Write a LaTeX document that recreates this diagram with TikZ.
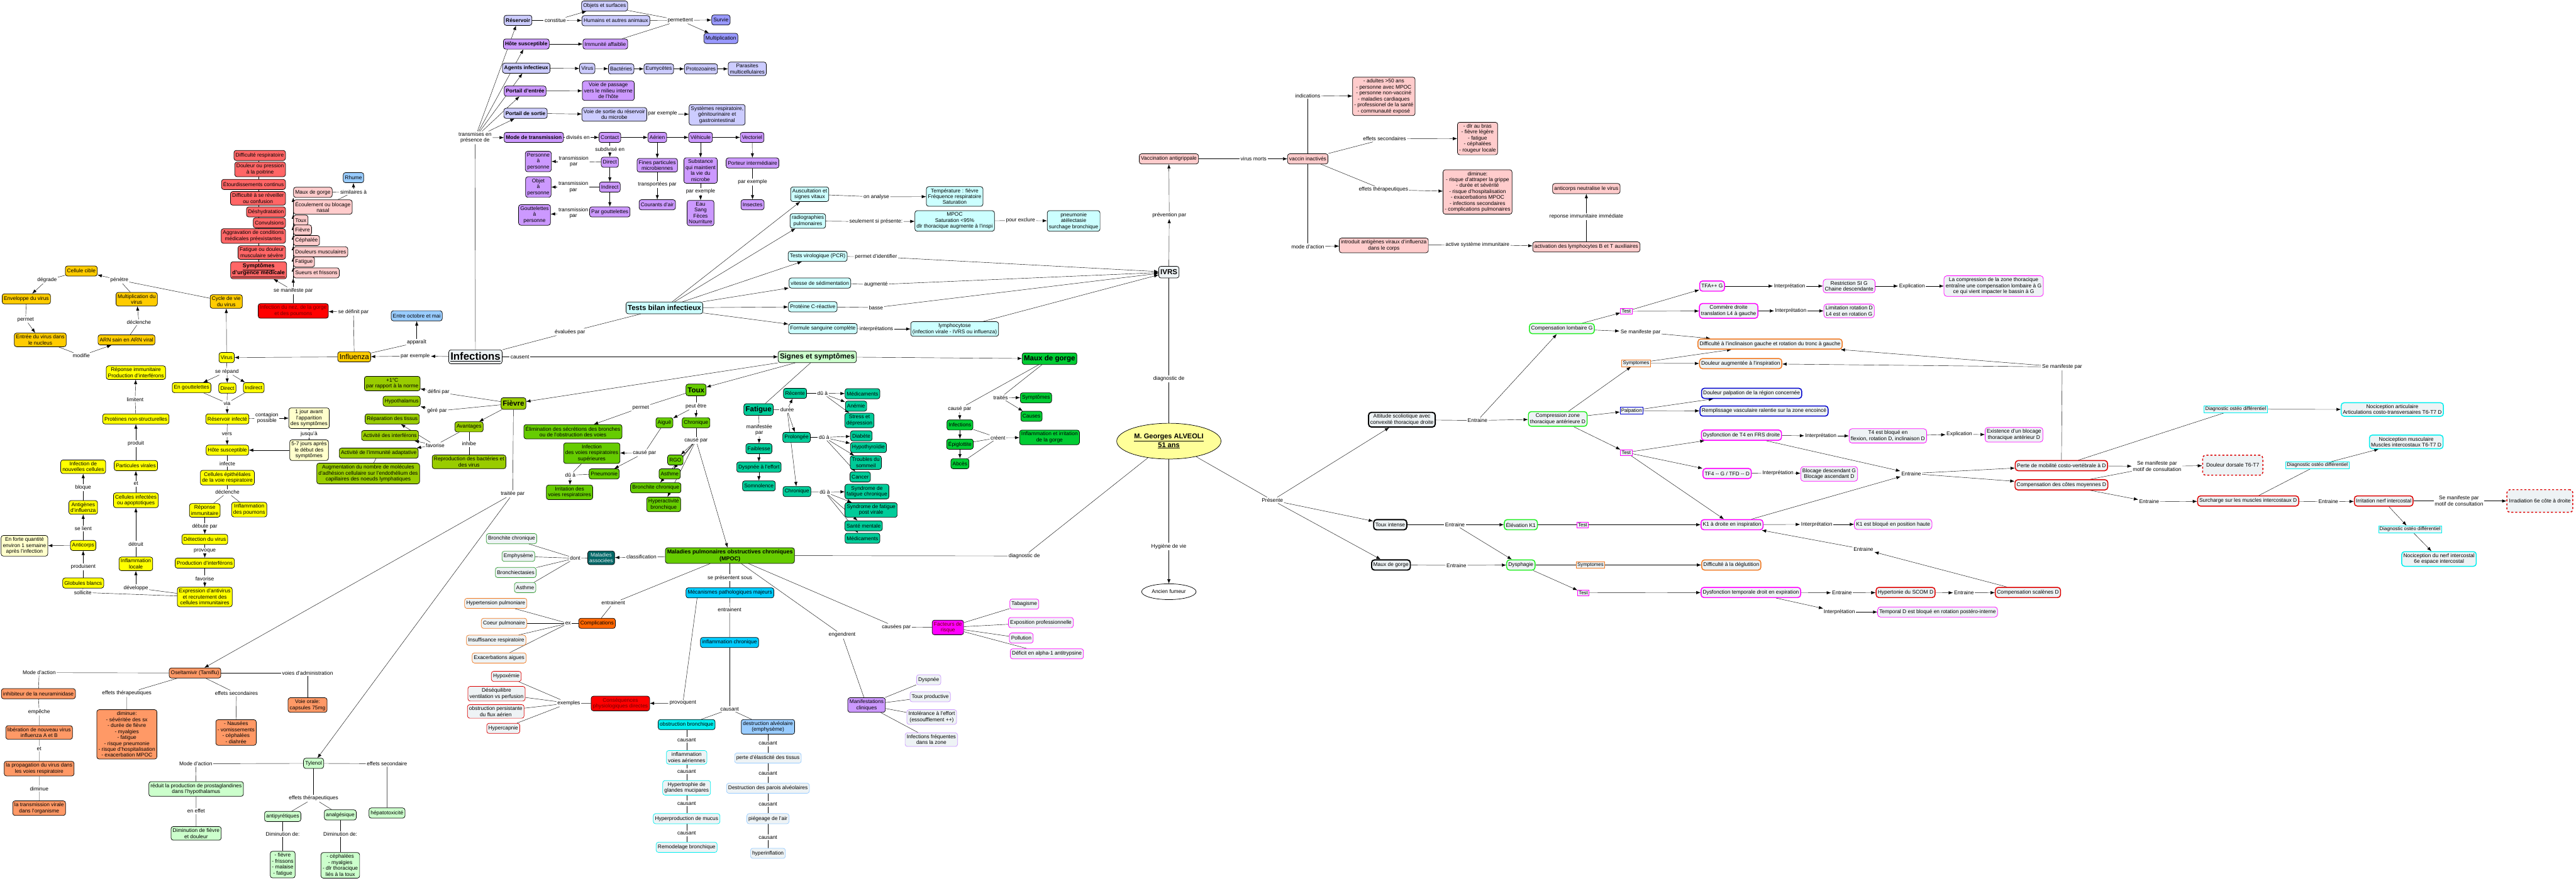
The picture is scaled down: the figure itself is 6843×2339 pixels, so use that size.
\documentclass[tikz,border=0pt]{standalone}
\usepackage{fontspec}
\setmainfont{Liberation Sans}
\usepackage{tikz}
\usetikzlibrary{arrows.meta,shapes.geometric,backgrounds}
\usepackage{xcolor}
\definecolor{LavBlue}{HTML}{CCCCFF}
\definecolor{Lilac}{HTML}{CC99FF}
\definecolor{Periw}{HTML}{9999FF}
\definecolor{Salmon}{HTML}{FF6666}
\definecolor{Blush}{HTML}{FFCCCC}
\definecolor{SkyB}{HTML}{99CCFF}
\definecolor{Amber}{HTML}{FFCC00}
\definecolor{Lemon}{HTML}{FFFF00}
\definecolor{Cream}{HTML}{FFFFCC}
\definecolor{AlertRed}{HTML}{FF0000}
\definecolor{FeverGreen}{HTML}{99CC00}
\definecolor{CoughGreen}{HTML}{66CC00}
\definecolor{FatTeal}{HTML}{00CC99}
\definecolor{ThroatGreen}{HTML}{00CC33}
\definecolor{TestCyan}{HTML}{CCFFFF}
\definecolor{SignGreen}{HTML}{CCFFCC}
\definecolor{PaleGrey}{HTML}{EEF3F5}
\definecolor{PatYellow}{HTML}{FFFF99}
\definecolor{Tangerine}{HTML}{FF9966}
\definecolor{DeepTeal}{HTML}{006666}
\definecolor{MecBlue}{HTML}{00CCFF}
\definecolor{Aqua}{HTML}{00EEEE}
\definecolor{CompOrange}{HTML}{FF6600}
\definecolor{Fuchsia}{HTML}{FF00FF}
\definecolor{BrightGreen}{HTML}{22EE22}
\definecolor{OstRed}{HTML}{DD0000}
\definecolor{OstBlue}{HTML}{0000CC}
\definecolor{OstOrange}{HTML}{F07820}
\definecolor{EdgeGreen}{HTML}{339933}
\definecolor{DarkRedText}{HTML}{700000}
\newcommand{\mapfont}{\fontsize{8}{9}\selectfont}
\tikzset{
  box/.style={draw,rounded corners=1.2mm,align=center,font=\mapfont,inner xsep=0.9mm,
    inner ysep=1mm,minimum height=5.4mm,line width=0.7pt},
  hdr/.style={box,font=\fontsize{8}{9.5}\selectfont\bfseries},
  bigbox/.style={box,font=\fontsize{11}{13}\selectfont\bfseries,minimum height=6.2mm},
  lbl/.style={font=\mapfont,inner sep=0.5mm,align=center},
  arr/.style={-{Latex[length=2.3mm,width=1.7mm]}},
  ost/.style={box,fill=PaleGrey,line width=1.4pt,rounded corners=1.5mm},
  thin/.style={line width=0.7pt},
  tag/.style={draw,fill=PaleGrey,font=\fontsize{7.5}{9}\selectfont,inner sep=0.6mm,line width=0.7pt},
  greybox/.style={box,fill=PaleGrey}
}
\begin{document}
\begin{tikzpicture}[x=0.2mm,y=-0.2mm]
\useasboundingbox (0,0) rectangle (6843,2339);

\node[hdr,fill=LavBlue] (res) at (1376,54) {Réservoir};
\node[box,fill=LavBlue] (objs) at (1606,16) {Objets et surfaces};
\node[box,fill=LavBlue] (hum) at (1636,55) {Humains et autres animaux};
\node[box,fill=Periw] (survie) at (1915,53) {Survie};
\node[box,fill=Periw] (multi) at (1915,102) {Multiplication};
\node[hdr,fill=Lilac] (hote) at (1398,117) {Hôte susceptible};
\node[box,fill=Lilac] (immun) at (1608,117) {Immunité affaiblie};
\node[hdr,fill=LavBlue] (agents) at (1398,181) {Agents infectieux};
\node[box,fill=LavBlue] (vir1) at (1560,182) {Virus};
\node[box,fill=LavBlue] (bact) at (1650,183) {Bactéries};
\node[box,fill=LavBlue] (eumy) at (1750,183) {Eumycètes};
\node[box,fill=LavBlue] (proto) at (1862,183) {Protozoaires};
\node[box,fill=LavBlue] (paras) at (1985,183) {Parasites\\multicellulaires};
\node[hdr,fill=Lilac] (pentree) at (1395,242) {Portail d'entrée};
\node[box,fill=Lilac] (voiep) at (1616,241) {Voie de passage\\vers le milieu interne\\de l'hôte};
\node[hdr,fill=LavBlue] (psortie) at (1396,301) {Portail de sortie};
\node[box,fill=LavBlue] (voies) at (1632,304) {Voie de sortie du réservoir\\du microbe};
\node[box,fill=LavBlue] (syst) at (1905,305) {Systèmes respiratoire,\\génitourinaire et\\gastrointestinal};
\node[hdr,fill=Lilac] (mode) at (1418,365) {Mode de transmission};
\node[box,fill=Lilac] (contact) at (1620,365) {Contact};
\node[box,fill=Lilac] (aerien) at (1746,365) {Aérien};
\node[box,fill=Lilac] (vehic) at (1861,365) {Véhicule};
\node[box,fill=Lilac] (vect) at (1998,365) {Vectoriel};
\node[box,fill=Lilac] (pdirect) at (1620,431) {Direct};
\node[box,fill=Lilac] (pperso) at (1430,429) {Personne\\à\\personne};
\node[box,fill=Lilac] (pindir) at (1620,497) {Indirect};
\node[box,fill=Lilac] (pobjet) at (1430,497) {Objet\\à\\personne};
\node[box,fill=Lilac] (pgoutt) at (1620,563) {Par gouttelettes};
\node[box,fill=Lilac] (pgouttp) at (1420,571) {Gouttelettes\\à\\personne};
\node[box,fill=Lilac] (fines) at (1746,439) {Fines particules\\microbiennes};
\node[box,fill=Lilac] (courants) at (1746,544) {Courants d'air};
\node[box,fill=Lilac] (subst) at (1861,453) {Substance\\qui maintient\\la vie du\\microbe};
\node[box,fill=Lilac] (eau) at (1861,566) {Eau\\Sang\\Fèces\\Nourriture};
\node[box,fill=Lilac] (porteur) at (1999,433) {Porteur intermédiaire};
\node[box,fill=Lilac] (insectes) at (1999,544) {Insectes};
\node[lbl] (Lconst) at (1475,54) {constitue};
\node[lbl] (Lperm) at (1807,54) {permettent};
\node[lbl] (Lpex1) at (1760,302) {par exemple};
\node[lbl] (Ltrans) at (1262,366) {transmises en\\présence de};
\node[lbl] (Ldiv) at (1535,365) {divisés en};
\node[lbl] (Lsubd) at (1620,396) {subdivisé en};
\node[lbl] (Ltp1) at (1524,429) {transmission\\par};
\node[lbl] (Ltp2) at (1523,497) {transmission\\par};
\node[lbl] (Ltp3) at (1523,566) {transmission\\par};
\node[lbl] (Ltransp) at (1746,490) {transportées par};
\node[lbl] (Lpex2) at (1861,509) {par exemple};
\node[lbl] (Lpex3) at (1999,484) {par exemple};

\node[box,fill=PaleGrey,font=\fontsize{16}{19}\selectfont\bfseries,minimum height=7.4mm] (inf) at (1263,948) {\underline{Infections}};
\node[lbl] (Lcausent) at (1381,948) {causent};
\node[bigbox,fill=SignGreen] (signes) at (2171,948) {Signes et symptômes};
\node[lbl] (Leval) at (1514,882) {évaluées par};
\node[bigbox,fill=TestCyan] (tests) at (1765,818) {Tests bilan infectieux};
\node[lbl] (Lparex) at (1103,946) {par exemple};
\node[box,fill=Amber,font=\fontsize{11}{13}\selectfont] (influ) at (941,948) {Influenza};
\node[lbl] (Lappar) at (1107,910) {apparaît};
\node[box,fill=SkyB] (octo) at (1107,839) {Entre octobre et mai};
\node[lbl] (Ldefin) at (939,829) {se définit par};
\node[box,fill=AlertRed,text=DarkRedText] (nez) at (779,826) {Infection du nez, de la gorge\\et des poumons};
\node[lbl] (Lmanif) at (779,772) {se manifeste par};
\node[box,fill=Salmon,font=\fontsize{8.5}{10}\selectfont\bfseries] (urg) at (687,718) {\underline{Symptômes}\\\underline{d'urgence médicale}};
\node[box,fill=Salmon,anchor=east] (difresp) at (759,413) {Difficulté respiratoire};
\node[box,fill=Salmon,anchor=east] (doulpoit) at (759,450) {Douleur ou pression\\à la poitrine};
\node[box,fill=Salmon,anchor=east] (etourd) at (759,490) {Étourdissements continus};
\node[box,fill=Salmon,anchor=east] (reveil) at (759,527) {Difficulté à se réveiller\\ou confusion};
\node[box,fill=Salmon,anchor=east] (deshyd) at (759,563) {Déshydratation};
\node[box,fill=Salmon,anchor=east] (convul) at (759,592) {Convulsions};
\node[box,fill=Salmon,anchor=east] (aggrav) at (759,627) {Aggravation de conditions\\médicales préexistantes};
\node[box,fill=Salmon,anchor=east] (fatsev) at (759,671) {Fatigue ou douleur\\musculaire sévère};
\node[box,fill=Blush,anchor=west] (pmaux) at (779,511) {Maux de gorge};
\node[box,fill=Blush,anchor=west] (pecoul) at (779,550) {Écoulement ou blocage\\nasal};
\node[box,fill=Blush,anchor=west] (ptoux) at (779,585) {Toux};
\node[box,fill=Blush,anchor=west] (pfievre) at (779,611) {Fièvre};
\node[box,fill=Blush,anchor=west] (pceph) at (779,639) {Céphalée};
\node[box,fill=Blush,anchor=west] (pdoul) at (779,669) {Douleurs musculaires};
\node[box,fill=Blush,anchor=west] (pfat) at (779,696) {Fatigue};
\node[box,fill=Blush,anchor=west] (psueurs) at (779,725) {Sueurs et frissons};
\node[lbl] (Lsimil) at (939,510) {similaires à};
\node[box,fill=SkyB] (rhume) at (939,472) {Rhume};

\node[box,fill=Lemon] (virus) at (602,950) {Virus};
\node[box,fill=Amber] (cycle) at (601,801) {Cycle de vie\\du virus};
\node[lbl] (Lpene) at (317,744) {pénètre};
\node[box,fill=Amber] (cible) at (216,720) {Cellule cible};
\node[lbl] (Ldegr) at (125,744) {dégrade};
\node[box,fill=Amber] (envel) at (70,794) {Enveloppe du virus};
\node[lbl] (Lpermet) at (68,849) {permet};
\node[box,fill=Amber] (entree) at (107,903) {Entrée du virus dans\\le nucleus};
\node[lbl] (Lmodif) at (216,945) {modifie};
\node[box,fill=Amber] (arn) at (336,903) {ARN sain en ARN viral};
\node[lbl] (Ldecl) at (369,856) {déclenche};
\node[box,fill=Amber] (multv) at (363,795) {Multiplication du\\virus};

\node[lbl] (Lrepand) at (603,987) {se répand};
\node[box,fill=Lemon] (goutt) at (509,1030) {En gouttelettes};
\node[box,fill=Lemon] (ydirect) at (604,1031) {Direct};
\node[box,fill=Lemon] (yindir) at (674,1030) {Indirect};
\node[lbl] (Lvia) at (603,1071) {via};
\node[box,fill=Lemon] (resinf) at (604,1113) {Réservoir infecté};
\node[lbl] (Lcontag) at (709,1111) {contagion\\possible};
\node[box,fill=Cream] (jour1) at (821,1111) {1 jour avant\\l'apparition\\des symptômes};
\node[lbl] (Ljusqua) at (821,1153) {jusqu'à};
\node[box,fill=Cream] (jours57) at (821,1196) {5-7 jours après\\le début des\\symptômes};
\node[lbl] (Lvers) at (603,1154) {vers};
\node[box,fill=Lemon] (yhote) at (604,1196) {Hôte susceptible};
\node[lbl] (Linfecte) at (604,1232) {infecte};
\node[box,fill=Lemon] (cellepi) at (604,1269) {Cellules épithéliales\\de la voie respiratoire};
\node[lbl] (Ldecl2) at (604,1308) {déclenche};
\node[box,fill=Lemon] (repimm) at (544,1356) {Réponse\\immunitaire};
\node[box,fill=Lemon] (inflpoum) at (662,1354) {Inflammation\\des poumons};
\node[lbl] (Ldebute) at (544,1399) {débute par};
\node[box,fill=Lemon] (detect) at (544,1433) {Détection du virus};
\node[lbl] (Lprovoq) at (544,1464) {provoque};
\node[box,fill=Lemon] (prodint) at (544,1496) {Production d'interférons};
\node[lbl] (Lfavor) at (544,1537) {favorise};
\node[box,fill=Lemon] (express) at (544,1586) {Expression d'antivirus\\et recrutement des\\cellules immunitaires};
\node[lbl] (Ldevelop) at (361,1562) {développe};
\node[lbl] (Lsollic) at (220,1574) {sollicite};
\node[box,fill=Lemon] (globules) at (221,1549) {Globules blancs};
\node[lbl] (Lproduis) at (221,1506) {produisent};
\node[box,fill=Lemon] (anticorps) at (221,1449) {Anticorps};
\node[box,fill=Cream] (forte) at (65,1450) {En forte quantité\\environ 1 semaine\\après l'infection};
\node[lbl] (Lselient) at (221,1404) {se lient};
\node[box,fill=Lemon] (antig) at (221,1348) {Antigènes\\d'influenza};
\node[lbl] (Lbloque) at (221,1296) {bloque};
\node[box,fill=Lemon] (infnouv) at (221,1240) {Infection de\\nouvelles cellules};
\node[box,fill=Lemon] (inflloc) at (361,1498) {Inflammation\\locale};
\node[lbl] (Ldetruit) at (361,1445) {détruit};
\node[box,fill=Lemon] (cellinf) at (361,1329) {Cellules infectées\\ou apoptotiques};
\node[lbl] (Let) at (361,1285) {et};
\node[box,fill=Lemon] (partvir) at (361,1237) {Particules virales};
\node[lbl] (Lproduit) at (361,1179) {produit};
\node[box,fill=Lemon] (protns) at (361,1113) {Protéines non-structurelles};
\node[lbl] (Llimit) at (359,1061) {limitent};
\node[box,fill=Lemon] (repint) at (361,990) {Réponse immunitaire\\Production d'interférons};

\node[bigbox,fill=FeverGreen] (fievre) at (1364,1072) {Fièvre};
\node[lbl] (Ldefpar) at (1165,1042) {défini par};
\node[box,fill=FeverGreen] (plus1) at (1042,1019) {+1°C\\par rapport à la norme};
\node[lbl] (Lgere) at (1161,1092) {géré par};
\node[box,fill=FeverGreen] (hypoth) at (1067,1066) {Hypothalamus};
\node[box,fill=FeverGreen] (avant) at (1246,1134) {Avantages};
\node[lbl] (Lfavo2) at (1156,1183) {favorise};
\node[box,fill=FeverGreen] (repar) at (1042,1113) {Réparation des tissus};
\node[box,fill=FeverGreen] (actint) at (1036,1157) {Activité des interférons};
\node[box,fill=FeverGreen] (actimm) at (1006,1204) {Activité de l'immunité adaptative};
\node[box,fill=FeverGreen] (augm) at (978,1258) {Augmentation du nombre de molécules\\d'adhésion cellulaire sur l'endothélium des\\capillaires des noeuds lymphatiques};
\node[lbl] (Linhibe) at (1246,1179) {inhibe};
\node[box,fill=FeverGreen] (reprod) at (1246,1227) {Reproduction des bactéries et\\des virus};
\node[lbl] (Ltraitee) at (1362,1312) {traitée par};

\node[bigbox,fill=CoughGreen] (toux) at (1849,1036) {Toux};
\node[lbl] (Lpermet2) at (1702,1083) {permet};
\node[box,fill=CoughGreen] (elim) at (1522,1147) {Élimination des sécrétions des bronches\\ou de l'obstruction des voies};
\node[lbl] (Lpeut) at (1849,1079) {peut être};
\node[box,fill=CoughGreen] (aigue) at (1765,1123) {Aiguë};
\node[box,fill=CoughGreen] (tchron) at (1849,1123) {Chronique};
\node[lbl] (Lcause1) at (1712,1203) {causé par};
\node[box,fill=CoughGreen] (infvrs) at (1572,1204) {Infection\\des voies respiratoires\\supérieures};
\node[box,fill=CoughGreen] (pneum) at (1605,1259) {Pneumonie};
\node[lbl] (Ldu1) at (1515,1262) {dû à};
\node[box,fill=CoughGreen] (irrit) at (1513,1308) {Irritation des\\voies respiratoires};
\node[lbl] (Lcause2) at (1849,1170) {causé par};
\node[box,fill=CoughGreen] (rgo) at (1794,1222) {RGO};
\node[box,fill=CoughGreen] (asthme1) at (1779,1259) {Asthme};
\node[box,fill=CoughGreen] (bronch1) at (1742,1296) {Bronchite chronique};
\node[box,fill=CoughGreen] (hyperact) at (1763,1340) {Hyperactivité\\bronchique};

\node[bigbox,fill=FatTeal] (fatigue) at (2015,1088) {Fatigue};
\node[lbl] (Lmanif2) at (2017,1142) {manifestée\\par};
\node[box,fill=FatTeal] (faibl) at (2016,1192) {Faiblesse};
\node[box,fill=FatTeal] (dyspef) at (2016,1241) {Dyspnée à l'effort};
\node[box,fill=FatTeal] (somno) at (2016,1291) {Somnolence};
\node[lbl] (Lduree) at (2091,1089) {durée};
\node[box,fill=FatTeal] (recente) at (2112,1045) {Récente};
\node[box,fill=FatTeal] (prolong) at (2116,1162) {Prolongée};
\node[box,fill=FatTeal] (fchron) at (2117,1306) {Chronique};
\node[lbl] (Ldu2) at (2185,1045) {dû à};
\node[box,fill=FatTeal] (medic1) at (2291,1046) {Médicaments};
\node[box,fill=FatTeal] (anemie) at (2274,1079) {Anémie};
\node[box,fill=FatTeal] (stress) at (2283,1117) {Stress et\\dépression};
\node[lbl] (Ldu3) at (2189,1162) {dû à};
\node[box,fill=FatTeal] (diabete) at (2288,1158) {Diabète};
\node[box,fill=FatTeal] (hypothy) at (2307,1189) {Hypothyroïdie};
\node[box,fill=FatTeal] (troubles) at (2300,1229) {Troubles du\\sommeil};
\node[box,fill=FatTeal] (cancer) at (2285,1267) {Cancer};
\node[lbl] (Ldu4) at (2191,1307) {dû à};
\node[box,fill=FatTeal] (sfc) at (2303,1306) {Syndrome de\\fatigue chronique};
\node[box,fill=FatTeal] (sfpv) at (2314,1355) {Syndrome de fatigue\\post virale};
\node[box,fill=FatTeal] (sante) at (2294,1397) {Santé mentale};
\node[box,fill=FatTeal] (medic2) at (2291,1430) {Médicaments};

\node[bigbox,fill=ThroatGreen] (maux) at (2788,953) {Maux de gorge};
\node[lbl] (Lcause3) at (2549,1086) {causé par};
\node[lbl] (Ltraites) at (2658,1056) {traités};
\node[box,fill=ThroatGreen] (msympt) at (2752,1057) {Symptômes};
\node[box,fill=ThroatGreen] (causes) at (2740,1106) {Causes};
\node[box,fill=ThroatGreen] (minf) at (2550,1129) {Infections};
\node[box,fill=ThroatGreen] (epig) at (2550,1180) {Épiglottite};
\node[box,fill=ThroatGreen] (abces) at (2550,1232) {Abcès};
\node[lbl] (Lcreent) at (2651,1163) {créent};
\node[box,fill=ThroatGreen] (inflirr) at (2788,1162) {Inflammation et irritation\\de la gorge};

\node[box,fill=TestCyan] (ausc) at (2151,516) {Auscultation et\\signes vitaux};
\node[lbl] (Lonan) at (2328,523) {on analyse};
\node[box,fill=TestCyan] (temp) at (2536,522) {Température : fièvre\\Fréquence respiratoire\\Saturation};
\node[box,fill=TestCyan] (radio) at (2146,587) {radiographies\\pulmonaires};
\node[lbl] (Lseul) at (2327,589) {seulement si présente:};
\node[box,fill=TestCyan] (mpocbox) at (2536,587) {MPOC\\Saturation <95\%\\dlr thoracique augmente à l'inspi};
\node[lbl] (Lpourex) at (2711,586) {pour exclure};
\node[box,fill=TestCyan] (pneumo) at (2852,587) {pneumonie\\atélectasie\\surchage bronchique};
\node[box,fill=TestCyan] (pcr) at (2172,681) {Tests virologique (PCR)};
\node[lbl] (Lpermid) at (2327,682) {permet d'identifier};
\node[box,fill=TestCyan] (vitesse) at (2178,752) {vitesse de sédimentation};
\node[lbl] (Laugm) at (2327,756) {augmenté};
\node[box,fill=TestCyan] (crp) at (2159,815) {Protéine C-réactive};
\node[lbl] (Lbasse) at (2327,817) {basse};
\node[box,fill=TestCyan] (fsc) at (2186,873) {Formule sanguine complète};
\node[lbl] (Linterp) at (2328,874) {interprétations};
\node[box,fill=TestCyan] (lympho) at (2536,874) {lymphocytose\\(infection virale - IVRS ou influenza)};

\node[bigbox,fill=PaleGrey] (ivrs) at (3105,723) {IVRS};
\node[lbl] (Lprev) at (3106,572) {prévention par};
\node[box,fill=Blush] (vacc) at (3105,422) {Vaccination antigrippale};
\node[lbl] (Lvirmort) at (3330,422) {virus morts};
\node[box,fill=Blush] (vaccin) at (3474,422) {vaccin inactivés};
\node[lbl] (Lindic) at (3474,254) {indications};
\node[box,fill=Blush] (indic) at (3676,256) {- adultes >50 ans\\- personne avec MPOC\\- personne non-vacciné\\- maladies cardiaques\\- professionel de la santé\\- communauté exposé};
\node[lbl] (Leffsec) at (3678,369) {effets secondaires};
\node[box,fill=Blush] (effsec) at (3925,368) {- dlr au bras\\- fièvre légère\\- fatigue\\- céphalées\\- rougeur locale};
\node[lbl] (Leffther) at (3675,504) {effets thérapeutiques};
\node[box,fill=Blush] (effther) at (3925,510) {diminue:\\- risque d'attraper la grippe\\- durée et sévérité\\- risque d'hospitalisation\\- exacerbations MPOC\\- infections secondaires\\- complications pulmonaires};
\node[lbl] (Lmodeact) at (3474,655) {mode d'action};
\node[box,fill=Blush] (introd) at (3676,652) {introduit antigènes viraux d'influenza\\dans le corps};
\node[lbl] (Lactive) at (3925,650) {active système immunitaire};
\node[box,fill=Blush] (activ) at (4214,656) {activation des lymphocytes B et T auxiliaires};
\node[lbl] (Lrepimm) at (4214,575) {reponse immunitaire immédiate};
\node[box,fill=Blush] (antineut) at (4214,501) {anticorps neutralise le virus};

\node[ellipse,draw,line width=0.7pt,fill=PatYellow,font=\fontsize{10.5}{13}\selectfont\bfseries,align=center,
      minimum width=43mm,minimum height=19mm] (patient) at (3105,1172) {\underline{M. Georges ALVEOLI}\\\underline{51 ans}};
\node[lbl] (Ldiag1) at (3105,1007) {diagnostic de};
\node[lbl] (Lhyg) at (3105,1452) {Hygiène de vie};
\node[ellipse,draw,line width=0.7pt,fill=white,font=\mapfont,minimum width=20.6mm,minimum height=8.4mm] (fumeur) at (3105,1572) {Ancien fumeur};
\node[lbl] (Ldiag2) at (2721,1477) {diagnostic de};
\node[lbl] (Lpres) at (3380,1329) {Présente};

\node[box,fill=CoughGreen,font=\fontsize{8.5}{10}\selectfont\bfseries] (mpoc) at (1939,1476) {Maladies pulmonaires obstructives chroniques\\(MPOC)};
\node[lbl] (Lclassif) at (1704,1480) {classification};
\node[box,fill=DeepTeal,text=PaleGrey] (malass) at (1597,1482) {Maladies\\associées};
\node[lbl] (Ldont) at (1528,1483) {dont};
\node[greybox,draw=EdgeGreen] (bronch2) at (1359,1431) {Bronchite chronique};
\node[greybox,draw=EdgeGreen] (emphys) at (1377,1478) {Emphysème};
\node[greybox,draw=EdgeGreen] (bronchiec) at (1370,1521) {Bronchiectasies};
\node[greybox,draw=EdgeGreen] (asthme2) at (1395,1561) {Asthme};
\node[lbl] (Lentr1) at (1629,1602) {entrainent};
\node[box,fill=CompOrange] (compl) at (1586,1656) {Complications};
\node[lbl] (Lex) at (1509,1656) {ex};
\node[greybox,draw=OstOrange] (hypert) at (1317,1603) {Hypertension pulmoniare};
\node[greybox,draw=OstOrange] (coeur) at (1339,1656) {Coeur pulmonaire};
\node[greybox,draw=OstOrange] (insuff) at (1318,1701) {Insuffisance respiratoire};
\node[greybox,draw=OstOrange] (exacerb) at (1326,1748) {Exacerbations aigues};
\node[lbl] (Lpresen) at (1939,1535) {se présentent sous};
\node[box,fill=MecBlue] (mecan) at (1939,1575) {Mécanismes pathologiques majeurs};
\node[lbl] (Lentr2) at (1938,1620) {entrainent};
\node[box,fill=MecBlue] (inflchr) at (1938,1707) {inflammation chronique};
\node[lbl] (Lcaus0) at (1938,1884) {causant};
\node[box,fill=Aqua] (obstr) at (1824,1925) {obstruction bronchique};
\node[box,fill=SkyB] (destr) at (2040,1931) {destruction alvéolaire\\(emphysème)};
\node[lbl] (Lc1) at (1824,1966) {causant};
\node[greybox,draw=Aqua] (inflva) at (1824,2012) {inflammation\\voies aériennes};
\node[lbl] (Lc2) at (1824,2049) {causant};
\node[greybox,draw=Aqua] (hypertro) at (1824,2093) {Hypertrophie de\\glandes mucipares};
\node[lbl] (Lc3) at (1824,2135) {causant};
\node[greybox,draw=Aqua] (hyperprod) at (1824,2175) {Hyperproduction de mucus};
\node[lbl] (Lc4) at (1824,2214) {causant};
\node[greybox,draw=Aqua] (remod) at (1824,2251) {Remodelage bronchique};
\node[lbl] (Ld1) at (2040,1975) {causant};
\node[greybox,draw=SkyB] (perteel) at (2040,2014) {perte d'élasticité des tissus};
\node[lbl] (Ld2) at (2040,2055) {causant};
\node[greybox,draw=SkyB] (destrpar) at (2040,2094) {Destruction des parois alvéolaires};
\node[lbl] (Ld3) at (2040,2136) {causant};
\node[greybox,draw=SkyB] (piege) at (2040,2175) {piégeage de l'air};
\node[lbl] (Ld4) at (2040,2225) {causant};
\node[greybox,draw=SkyB] (hyperinf) at (2040,2267) {hyperinflation};
\node[lbl] (Lprovoq2) at (1814,1868) {provoquent};
\node[box,fill=AlertRed,text=DarkRedText] (conseq) at (1648,1869) {Conséquences\\physiologiques directes};
\node[lbl] (Lexemples) at (1511,1868) {exemples};
\node[greybox,draw=OstRed] (hypox) at (1345,1797) {Hypoxémie};
\node[greybox,draw=OstRed] (desequ) at (1319,1843) {Déséquilibre\\ventilation vs perfusion};
\node[greybox,draw=OstRed] (obstrp) at (1317,1890) {obstruction persistante\\du flux aérien};
\node[greybox,draw=OstRed] (hypercap) at (1337,1935) {Hypercapnie};
\node[lbl] (Lengend) at (2237,1687) {engendrent};
\node[box,fill=Lilac] (manif) at (2302,1873) {Manifestations\\cliniques};
\node[greybox,draw=Lilac] (dyspnee) at (2467,1806) {Dyspnée};
\node[greybox,draw=Lilac] (touxprod) at (2471,1851) {Toux productive};
\node[greybox,draw=Lilac] (intol) at (2475,1905) {Intolérance à l'effort\\(essoufflement ++)};
\node[greybox,draw=Lilac] (infreq) at (2474,1965) {Infections fréquentes\\dans la zone};
\node[lbl] (Lcausees) at (2381,1666) {causées par};
\node[box,fill=Fuchsia,text=DarkRedText] (facteurs) at (2518,1667) {Facteurs de\\risque};
\node[greybox,draw=Fuchsia] (tabag) at (2721,1605) {Tabagisme};
\node[greybox,draw=Fuchsia] (expo) at (2765,1654) {Exposition professionnelle};
\node[greybox,draw=Fuchsia] (pollu) at (2713,1695) {Pollution};
\node[greybox,draw=Fuchsia] (deficit) at (2781,1737) {Déficit en alpha-1 antitrypsine};

\node[box,fill=Tangerine] (oselt) at (518,1788) {Oseltamivir (Tamiflu)};
\node[lbl] (Lmode1) at (104,1787) {Mode d'action};
\node[box,fill=Tangerine] (inhib) at (102,1843) {inhibiteur de la neuraminidase};
\node[lbl] (Lempeche) at (104,1891) {empêche};
\node[box,fill=Tangerine] (liber) at (104,1946) {libération de nouveau virus\\influenza A et B};
\node[lbl] (Let2) at (104,1989) {et};
\node[box,fill=Tangerine] (propag) at (104,2042) {la propagation du virus dans\\les voies respiratoire};
\node[lbl] (Ldim) at (104,2095) {diminue};
\node[box,fill=Tangerine] (transm) at (104,2147) {la transmission virale\\dans l'organisme};
\node[lbl] (Lvoies) at (817,1788) {voies d'administration};
\node[box,fill=Tangerine] (voieor) at (817,1873) {Voie orale:\\capsules 75mg};
\node[lbl] (Leffth) at (337,1842) {effets thérapeutiques};
\node[box,fill=Tangerine] (dimbox) at (337,1951) {diminue:\\- sévéritée des sx\\- durée de fièvre\\- myalgies\\- fatigue\\- risque pneumonie\\- risque d'hospitalisation\\- exacerbation MPOC};
\node[lbl] (Leffsec2) at (628,1842) {effets secondaires};
\node[box,fill=Tangerine] (nausees) at (627,1946) {- Nausées\\- vomissements\\- céphalées\\- diahrée};

\node[box,fill=SignGreen] (tylenol) at (833,2028) {Tylenol};
\node[lbl] (Lmode2) at (520,2029) {Mode d'action};
\node[box,fill=SignGreen] (reduit) at (521,2096) {réduit la production de prostaglandines\\dans l'hypothalamus};
\node[lbl] (Leneffet) at (521,2155) {en effet};
\node[box,fill=SignGreen] (dimfiev) at (521,2214) {Diminution de fièvre\\et douleur};
\node[lbl] (Leffsec3) at (1028,2029) {effets secondaire};
\node[box,fill=SignGreen] (hepato) at (1028,2160) {hépatotoxicité};
\node[lbl] (Leffth2) at (833,2121) {effets thérapeutiques};
\node[box,fill=SignGreen] (antipyr) at (751,2169) {antipyrétiques};
\node[box,fill=SignGreen] (analg) at (904,2165) {analgésique};
\node[lbl] (Ldimde1) at (751,2216) {Diminution de:};
\node[lbl] (Ldimde2) at (904,2216) {Diminution de:};
\node[box,fill=SignGreen] (fievlist) at (751,2297) {- fièvre\\- frissons\\- malaise\\- fatigue};
\node[box,fill=SignGreen] (cephlist) at (904,2299) {- céphalées\\- myalgies\\- dlr thoracique\\liés à la toux};

\node[ost,draw=black,line width=1.8pt] (attitude) at (3724,1115) {Attitude scoliotique avec\\convexité thoracique droite};
\node[ost,draw=black,line width=1.8pt] (touxint) at (3693,1394) {Toux intense};
\node[ost,draw=black,line width=1.8pt] (mauxint) at (3695,1501) {Maux de gorge};
\node[ost,draw=BrightGreen] (compzone) at (4138,1113) {Compression zone\\thoracique antérieure D};
\node[ost,draw=BrightGreen] (complomb) at (4149,873) {Compensation lombaire G};
\node[ost,draw=BrightGreen] (elevk1) at (4040,1394) {Élévation K1};
\node[ost,draw=BrightGreen] (dysph) at (4040,1501) {Dysphagie};
\node[tag,draw=Fuchsia] (test1) at (4320,827) {Test};
\node[tag,draw=OstOrange] (sympt1) at (4346,965) {Symptomes};
\node[tag,draw=OstBlue] (palp) at (4334,1091) {Palpation};
\node[tag,draw=Fuchsia] (test2) at (4320,1202) {Test};
\node[tag,draw=Fuchsia] (test3) at (4204,1394) {Test};
\node[tag,draw=OstOrange] (sympt2) at (4225,1501) {Symptomes};
\node[tag,draw=Fuchsia] (test4) at (4206,1575) {Test};
\node[tag,draw=Aqua] (diag3) at (5939,1087) {Diagnostic ostéo différentiel};
\node[tag,draw=Aqua] (diag4) at (6156,1236) {Diagnostic ostéo différentiel};
\node[tag,draw=Aqua] (diag5) at (6402,1406) {Diagnostic ostéo différentiel};
\node[ost,draw=Fuchsia] (tfa) at (4548,760) {TFA++ G};
\node[ost,draw=Fuchsia] (commere) at (4592,826) {Commère droite\\translation L4 à gauche};
\node[ost,draw=Fuchsia,thin] (restr) at (4912,760) {Restriction SI G\\Chaine descendante};
\node[ost,draw=Fuchsia,thin] (limit) at (4912,826) {Limitation rotation D\\L4 est en rotation G};
\node[ost,draw=Fuchsia,thin] (lacomp) at (5296,760) {La compression de la zone thoracique\\entraîne une compensation lombaire à G\\ce qui vient impacter le bassin à G};
\node[ost,draw=OstOrange] (diffincl) at (4702,914) {Difficulté à l'inclinaison gauche et rotation du tronc à gauche};
\node[ost,draw=OstOrange] (doulinsp) at (4624,966) {Douleur augmentée à l'inspiration};
\node[ost,draw=OstBlue] (doulpalp) at (4653,1045) {Douleur palpation de la région concernée};
\node[ost,draw=OstBlue] (rempl) at (4686,1092) {Remplissage vasculaire ralentie sur la zone encoincé};
\node[ost,draw=Fuchsia] (dyst4) at (4626,1156) {Dysfonction de T4 en FRS droite};
\node[ost,draw=Fuchsia,thin] (t4bloq) at (5015,1158) {T4 est bloqué en\\flexion, rotation D, inclinaison D};
\node[ost,draw=Fuchsia,thin] (existence) at (5350,1155) {Existence d'un blocage\\thoracique antérieur D};
\node[ost,draw=Fuchsia] (tf4) at (4588,1258) {TF4 -{}- G / TFD -{}- D};
\node[ost,draw=Fuchsia,thin] (blocage) at (4859,1259) {Blocage descendant G\\Blocage ascendant D};
\node[ost,draw=OstRed] (perte) at (5476,1237) {Perte de mobilité costo-vertébrale à D};
\node[ost,draw=OstRed] (compcotes) at (5476,1288) {Compensation des côtes moyennes D};
\node[ost,draw=OstRed,dashed,minimum width=32mm,minimum height=10.6mm] (douldors) at (5931,1236) {Douleur dorsale T6-T7};
\node[ost,draw=OstRed] (surch) at (5972,1331) {Surcharge sur les muscles intercostaux D};
\node[ost,draw=OstRed] (irrit2) at (6332,1331) {Irritation nerf intercostal};
\node[ost,draw=OstRed,dashed,minimum width=35mm,minimum height=12mm] (irrad) at (6747,1331) {Irradiation 6e côte à droite};
\node[ost,draw=Aqua] (nocart) at (6355,1088) {Nociception articulaire\\Articulations costo-transversaires T6-T7 D};
\node[ost,draw=Aqua] (nocmus) at (6392,1174) {Nociception musculaire\\Muscles intercostaux T6-T7 D};
\node[ost,draw=Aqua] (nocnerf) at (6479,1485) {Nociception du nerf intercostal\\6e espace intercostal};
\node[ost,draw=Fuchsia] (k1) at (4601,1394) {K1 à droite en inspiration};
\node[ost,draw=Fuchsia,thin] (k1bloq) at (5029,1393) {K1 est bloqué en position haute};
\node[ost,draw=OstOrange] (diffdegl) at (4599,1501) {Difficulté à la déglutition};
\node[ost,draw=Fuchsia] (dystemp) at (4651,1574) {Dysfonction temporale droit en expiration};
\node[ost,draw=OstRed] (hyperton) at (5062,1574) {Hypertonie du SCOM D};
\node[ost,draw=OstRed] (scalenes) at (5387,1574) {Compensation scalènes D};
\node[ost,draw=Fuchsia,thin] (temporal) at (5147,1626) {Temporal D est bloqué en rotation postéro-interne};
\node[lbl] (Lent1) at (3925,1117) {Entraine};
\node[lbl] (Lsemanif1) at (4358,882) {Se manifeste par};
\node[lbl] (Linterp1) at (4754,760) {Interprétation};
\node[lbl] (Lexpl1) at (5079,760) {Explication};
\node[lbl] (Linterp2) at (4757,826) {Interprétation};
\node[lbl] (Linterp3) at (4837,1158) {Interprétation};
\node[lbl] (Lexpl2) at (5205,1154) {Explication};
\node[lbl] (Linterp4) at (4723,1256) {Interprétation};
\node[lbl] (Lent2) at (5077,1258) {Entraine};
\node[lbl] (Lsemanif2) at (5730,1239) {Se manifeste par\\motif de consultation};
\node[lbl] (Lsemanif3) at (5478,975) {Se manifeste par};
\node[lbl] (Lent3) at (5709,1333) {Entraine};
\node[lbl] (Lent4) at (6185,1333) {Entraine};
\node[lbl] (Lsemanif4) at (6532,1331) {Se manifeste par\\motif de consultation};
\node[lbl] (Lent5) at (3865,1394) {Entraine};
\node[lbl] (Linterp5) at (4826,1393) {Interprétation};
\node[lbl] (Lent6) at (4950,1459) {Entraine};
\node[lbl] (Lent7) at (3869,1502) {Entraine};
\node[lbl] (Lent8) at (4893,1575) {Entraine};
\node[lbl] (Lent9) at (5217,1575) {Entraine};
\node[lbl] (Linterp6) at (4886,1626) {Interprétation};

\begin{scope}[on background layer,line width=0.8pt]
\draw (inf) -- (Ltrans);
\path[arr] (Ltrans) edge (res) edge (hote) edge (agents) edge (pentree) edge (psortie) edge (mode);
\draw (res) -- (Lconst);
\path[arr] (Lconst) edge (objs) edge (hum);
\path (Lperm) edge (objs) edge (hum) edge (immun);
\path[arr] (Lperm) edge (survie) edge (multi);
\draw[arr] (hote) -- (immun);
\path[arr] (agents) edge (vir1) (vir1) edge (bact) (bact) edge (eumy) (eumy) edge (proto) (proto) edge (paras);
\draw[arr] (pentree) -- (voiep);
\draw[arr] (psortie) -- (voies);
\draw (voies) -- (Lpex1);
\draw[arr] (Lpex1) -- (syst);
\draw (mode) -- (Ldiv);
\draw[arr] (Ldiv) -- (contact);
\path[arr] (contact) edge (aerien) (aerien) edge (vehic) (vehic) edge (vect);
\draw (contact) -- (Lsubd);
\draw[arr] (Lsubd) -- (pdirect);
\path[arr] (pdirect) edge (pindir) (pindir) edge (pgoutt);
\draw (pdirect) -- (Ltp1);
\draw[arr] (Ltp1) -- (pperso);
\draw (pindir) -- (Ltp2);
\draw[arr] (Ltp2) -- (pobjet);
\draw (pgoutt) -- (Ltp3);
\draw[arr] (Ltp3) -- (pgouttp);
\draw[arr] (aerien) -- (fines);
\draw (fines) -- (Ltransp);
\draw[arr] (Ltransp) -- (courants);
\draw[arr] (vehic) -- (subst);
\draw (subst) -- (Lpex2);
\draw[arr] (Lpex2) -- (eau);
\draw[arr] (vect) -- (porteur);
\draw (porteur) -- (Lpex3);
\draw[arr] (Lpex3) -- (insectes);

\draw (inf) -- (Lcausent);
\draw[arr] (Lcausent) -- (signes);
\draw (inf) -- (Leval) -- (tests);
\draw[arr] (inf) -- (Lparex);
\draw[arr] (Lparex) -- (influ);
\draw (influ) -- (Lappar);
\draw[arr] (Lappar) -- (octo);
\draw (influ) -- (Ldefin);
\draw[arr] (Ldefin) -- (nez);
\draw (nez) -- (Lmanif);
\draw[arr] (Lmanif) -- (urg);
\draw (urg) -- (urg |- difresp.south);
\path[arr] (Lmanif) edge (Lmanif |- psueurs.south) edge (Lmanif |- pfat.south) edge (Lmanif |- pdoul.south)
  edge (Lmanif |- pceph.south) edge (Lmanif |- pfievre.south) edge (Lmanif |- ptoux.south)
  edge (Lmanif |- pecoul.south) edge (Lmanif |- pmaux.south);
\path (Lsimil) edge (pmaux) edge (pecoul);
\draw[arr] (Lsimil) -- (rhume);
\draw[arr] (influ) -- (virus);

\draw[arr] (virus) -- (cycle);
\path (Lpene) edge (cycle) edge (multv);
\draw[arr] (Lpene) -- (cible);
\draw (cible) -- (Ldegr);
\draw[arr] (Ldegr) -- (envel);
\draw (envel) -- (Lpermet);
\draw[arr] (Lpermet) -- (entree);
\draw (entree) -- (Lmodif);
\draw[arr] (Lmodif) -- (arn);
\draw (arn) -- (Ldecl);
\draw[arr] (Ldecl) -- (multv);

\draw (virus) -- (Lrepand);
\path[arr] (Lrepand) edge (goutt) edge (ydirect) edge (yindir);
\path (Lvia) edge (goutt) edge (ydirect) edge (yindir);
\draw[arr] (Lvia) -- (resinf);
\draw (resinf) -- (Lcontag);
\draw[arr] (Lcontag) -- (jour1);
\draw (jour1) -- (Ljusqua) -- (jours57);
\draw[arr] (jours57) -- (yhote);
\draw (resinf) -- (Lvers);
\draw[arr] (Lvers) -- (yhote);
\draw (yhote) -- (Linfecte) -- (cellepi);
\draw (cellepi) -- (Ldecl2);
\path (Ldecl2) edge (repimm) edge (inflpoum);
\draw (repimm) -- (Ldebute);
\draw[arr] (Ldebute) -- (detect);
\draw (detect) -- (Lprovoq);
\draw[arr] (Lprovoq) -- (prodint);
\draw (prodint) -- (Lfavor);
\draw[arr] (Lfavor) -- (express);
\draw (express) -- (Ldevelop);
\draw[arr] (Ldevelop) -- (inflloc);
\draw (express) -- (Lsollic) -- (globules);
\draw (globules) -- (Lproduis);
\draw[arr] (Lproduis) -- (anticorps);
\draw[arr] (anticorps) -- (forte);
\draw (anticorps) -- (Lselient);
\draw[arr] (Lselient) -- (antig);
\draw (antig) -- (Lbloque);
\draw[arr] (Lbloque) -- (infnouv);
\draw (inflloc) -- (Ldetruit);
\draw[arr] (Ldetruit) -- (cellinf);
\draw (cellinf) -- (Let);
\draw[arr] (Let) -- (partvir);
\draw (partvir) -- (Lproduit);
\draw[arr] (Lproduit) -- (protns);
\draw (protns) -- (Llimit);
\draw[arr] (Llimit) -- (repint);

\draw[arr] (signes) -- (fievre);
\draw (fievre) -- (Ldefpar);
\draw[arr] (Ldefpar) -- (plus1);
\draw (fievre) -- (Lgere);
\draw[arr] (Lgere) -- (hypoth);
\draw[arr] (fievre) -- (avant);
\draw (avant) -- (Lfavo2);
\path[arr] (Lfavo2) edge (repar) edge (actint) edge (actimm);
\draw (actimm) -- (augm);
\draw (avant) -- (Linhibe) -- (reprod);
\draw (fievre) -- (Ltraitee);
\path[arr] (Ltraitee) edge (oselt) edge (tylenol);

\draw[arr] (signes) -- (toux);
\draw (toux) -- (Lpermet2);
\draw[arr] (Lpermet2) -- (elim);
\draw (toux) -- (Lpeut);
\path[arr] (Lpeut) edge (aigue) edge (tchron);
\draw (aigue) -- (Lcause1);
\path[arr] (Lcause1) edge (infvrs) edge (pneum);
\path (Ldu1) edge (infvrs) edge (pneum);
\draw[arr] (Ldu1) -- (irrit);
\draw (tchron) -- (Lcause2);
\path[arr] (Lcause2) edge (rgo) edge (asthme1) edge (bronch1) edge (hyperact) edge (mpoc);

\draw (signes) -- (fatigue);
\draw (fatigue) -- (Lmanif2);
\draw[arr] (Lmanif2) -- (faibl);
\path[arr] (faibl) edge (dyspef) (dyspef) edge (somno);
\draw (fatigue) -- (Lduree);
\path[arr] (Lduree) edge (recente) edge (prolong) edge (fchron);
\draw (recente) -- (Ldu2);
\path[arr] (Ldu2) edge (medic1) edge (anemie) edge (stress);
\draw (prolong) -- (Ldu3);
\path[arr] (Ldu3) edge (diabete) edge (hypothy) edge (troubles) edge (cancer);
\draw (fchron) -- (Ldu4);
\path[arr] (Ldu4) edge (sfc) edge (sfpv) edge (sante) edge (medic2);

\draw[arr] (signes) -- (maux);
\draw (maux) -- (Lcause3);
\draw[arr] (Lcause3) -- (minf);
\draw (maux) -- (Ltraites);
\path[arr] (Ltraites) edge (msympt) edge (causes);
\path[arr] (minf) edge (epig) (epig) edge (abces);
\path (Lcreent) edge (minf) edge (epig) edge (abces);
\draw[arr] (Lcreent) -- (inflirr);

\path[arr] (tests) edge (ausc) edge (radio) edge (pcr) edge (vitesse) edge (crp) edge (fsc);
\draw (ausc) -- (Lonan);
\draw[arr] (Lonan) -- (temp);
\draw (radio) -- (Lseul);
\draw[arr] (Lseul) -- (mpocbox);
\draw (mpocbox) -- (Lpourex);
\draw[arr] (Lpourex) -- (pneumo);
\draw (pcr) -- (Lpermid);
\draw[arr] (Lpermid) -- (ivrs);
\draw (vitesse) -- (Laugm);
\draw[arr] (Laugm) -- (ivrs);
\draw (crp) -- (Lbasse);
\draw[arr] (Lbasse) -- (ivrs);
\draw (fsc) -- (Linterp);
\draw[arr] (Linterp) -- (lympho);
\draw[arr] (lympho) -- (ivrs);

\draw[arr] (ivrs) -- (Lprev);
\draw[arr] (Lprev) -- (vacc);
\draw (vacc) -- (Lvirmort);
\draw[arr] (Lvirmort) -- (vaccin);
\draw (vaccin) -- (Lindic);
\draw[arr] (Lindic) -- (indic);
\draw (vaccin) -- (Leffsec);
\draw[arr] (Leffsec) -- (effsec);
\draw (vaccin) -- (Leffther);
\draw[arr] (Leffther) -- (effther);
\draw (vaccin) -- (Lmodeact);
\draw[arr] (Lmodeact) -- (introd);
\draw (introd) -- (Lactive);
\draw[arr] (Lactive) -- (activ);
\draw (activ) -- (Lrepimm);
\draw[arr] (Lrepimm) -- (antineut);

\draw (patient) -- (Ldiag1) -- (ivrs);
\draw (patient) -- (Lhyg);
\draw[arr] (Lhyg) -- (fumeur);
\draw (patient) -- (Ldiag2) -- (mpoc);
\draw (patient) -- (Lpres);
\path[arr] (Lpres) edge (attitude) edge (touxint) edge (mauxint);

\draw (mpoc) -- (Lclassif);
\draw[arr] (Lclassif) -- (malass);
\draw (malass) -- (Ldont);
\path (Ldont) edge (bronch2) edge (emphys) edge (bronchiec) edge (asthme2);
\draw (mpoc) -- (Lentr1) -- (compl);
\draw (compl) -- (Lex);
\path (Lex) edge (hypert) edge (coeur) edge (insuff) edge (exacerb);
\draw (mpoc) -- (Lpresen) -- (mecan);
\draw (mecan) -- (Lentr2) -- (inflchr);
\draw (inflchr) -- (Lcaus0);
\path (Lcaus0) edge (obstr) edge (destr);
\draw (obstr) -- (Lc1) -- (inflva) -- (Lc2) -- (hypertro) -- (Lc3) -- (hyperprod) -- (Lc4) -- (remod);
\draw (destr) -- (Ld1) -- (perteel) -- (Ld2) -- (destrpar) -- (Ld3) -- (piege) -- (Ld4) -- (hyperinf);
\draw (mecan.south west) ++(30,0) -- (Lprovoq2);
\draw[arr] (Lprovoq2) -- (conseq);
\draw (conseq) -- (Lexemples);
\path (Lexemples) edge (hypox) edge (desequ) edge (obstrp) edge (hypercap);
\draw (mpoc) -- (Lengend) -- (manif);
\path (manif) edge (dyspnee) edge (touxprod) edge (intol) edge (infreq);
\draw (mpoc) -- (Lcausees) -- (facteurs);
\path (facteurs) edge (tabag) edge (expo) edge (pollu) edge (deficit);

\draw (oselt) -- (Lmode1) -- (inhib) -- (Lempeche) -- (liber) -- (Let2) -- (propag) -- (Ldim) -- (transm);
\draw (oselt) -- (Lvoies) -- (voieor);
\draw (oselt) -- (Leffth) -- (dimbox);
\draw (oselt) -- (Leffsec2) -- (nausees);
\draw (tylenol) -- (Lmode2) -- (reduit) -- (Leneffet) -- (dimfiev);
\draw (tylenol) -- (Leffsec3) -- (hepato);
\draw (tylenol) -- (Leffth2);
\path (Leffth2) edge (antipyr) edge (analg);
\draw (antipyr) -- (Ldimde1) -- (fievlist);
\draw (analg) -- (Ldimde2) -- (cephlist);

\draw (attitude) -- (Lent1);
\path[arr] (Lent1) edge (compzone) edge (complomb);
\draw[arr] (complomb) -- (test1);
\draw[arr] (complomb) -- (Lsemanif1);
\draw[arr] (Lsemanif1) -- (diffincl);
\path[arr] (test1) edge (tfa) edge (commere);
\draw[arr] (tfa) -- (Linterp1);
\draw[arr] (Linterp1) -- (restr);
\draw[arr] (restr) -- (Lexpl1);
\draw[arr] (Lexpl1) -- (lacomp);
\draw[arr] (commere) -- (Linterp2);
\draw[arr] (Linterp2) -- (limit);
\draw[arr] (compzone) -- (sympt1);
\path[arr] (sympt1) edge (diffincl) edge (doulinsp);
\draw[arr] (compzone) -- (palp);
\path[arr] (palp) edge (doulpalp) edge (rempl);
\draw[arr] (compzone) -- (test2);
\path[arr] (test2) edge (dyst4) edge (tf4) edge (k1);
\draw[arr] (dyst4) -- (Linterp3);
\draw[arr] (Linterp3) -- (t4bloq);
\draw[arr] (t4bloq) -- (Lexpl2);
\draw[arr] (Lexpl2) -- (existence);
\draw (tf4) -- (Linterp4);
\draw[arr] (Linterp4) -- (blocage);
\path[arr] (dyst4) edge (Lent2) (k1) edge (Lent2);
\path[arr] (Lent2) edge (perte) edge (compcotes);
\draw[arr] (perte) -- (Lsemanif2);
\draw (compcotes) -- (Lsemanif2);
\draw[arr] (Lsemanif2) -- (douldors);
\draw (perte) -- (Lsemanif3);
\path[arr] (Lsemanif3) edge (diffincl) edge (doulinsp);
\draw (perte) -- (diag3);
\draw[arr] (diag3) -- (nocart);
\draw[arr] (compcotes) -- (Lent3);
\draw[arr] (Lent3) -- (surch);
\draw (surch) -- (diag4);
\draw[arr] (diag4) -- (nocmus);
\draw (surch) -- (Lent4);
\draw[arr] (Lent4) -- (irrit2);
\draw (irrit2) -- (Lsemanif4);
\draw[arr] (Lsemanif4) -- (irrad);
\draw[arr] (irrit2) -- (diag5);
\draw[arr] (diag5) -- (nocnerf);
\draw (touxint) -- (Lent5);
\path[arr] (Lent5) edge (elevk1) edge (dysph);
\draw (elevk1) -- (test3);
\draw[arr] (test3) -- (k1);
\draw[arr] (k1) -- (Linterp5);
\draw[arr] (Linterp5) -- (k1bloq);
\draw[arr] (scalenes) -- (Lent6);
\draw[arr] (Lent6) -- (k1);
\draw (mauxint) -- (Lent7);
\draw[arr] (Lent7) -- (dysph);
\draw (dysph) -- (sympt2);
\draw[arr] (sympt2) -- (diffdegl);
\draw[arr] (dysph) -- (test4);
\draw[arr] (test4) -- (dystemp);
\draw[arr] (dystemp) -- (Lent8);
\draw[arr] (Lent8) -- (hyperton);
\draw[arr] (hyperton) -- (Lent9);
\draw[arr] (Lent9) -- (scalenes);
\draw[arr] (dystemp) -- (Linterp6);
\draw[arr] (Linterp6) -- (temporal);
\end{scope}
\end{tikzpicture}
\end{document}
